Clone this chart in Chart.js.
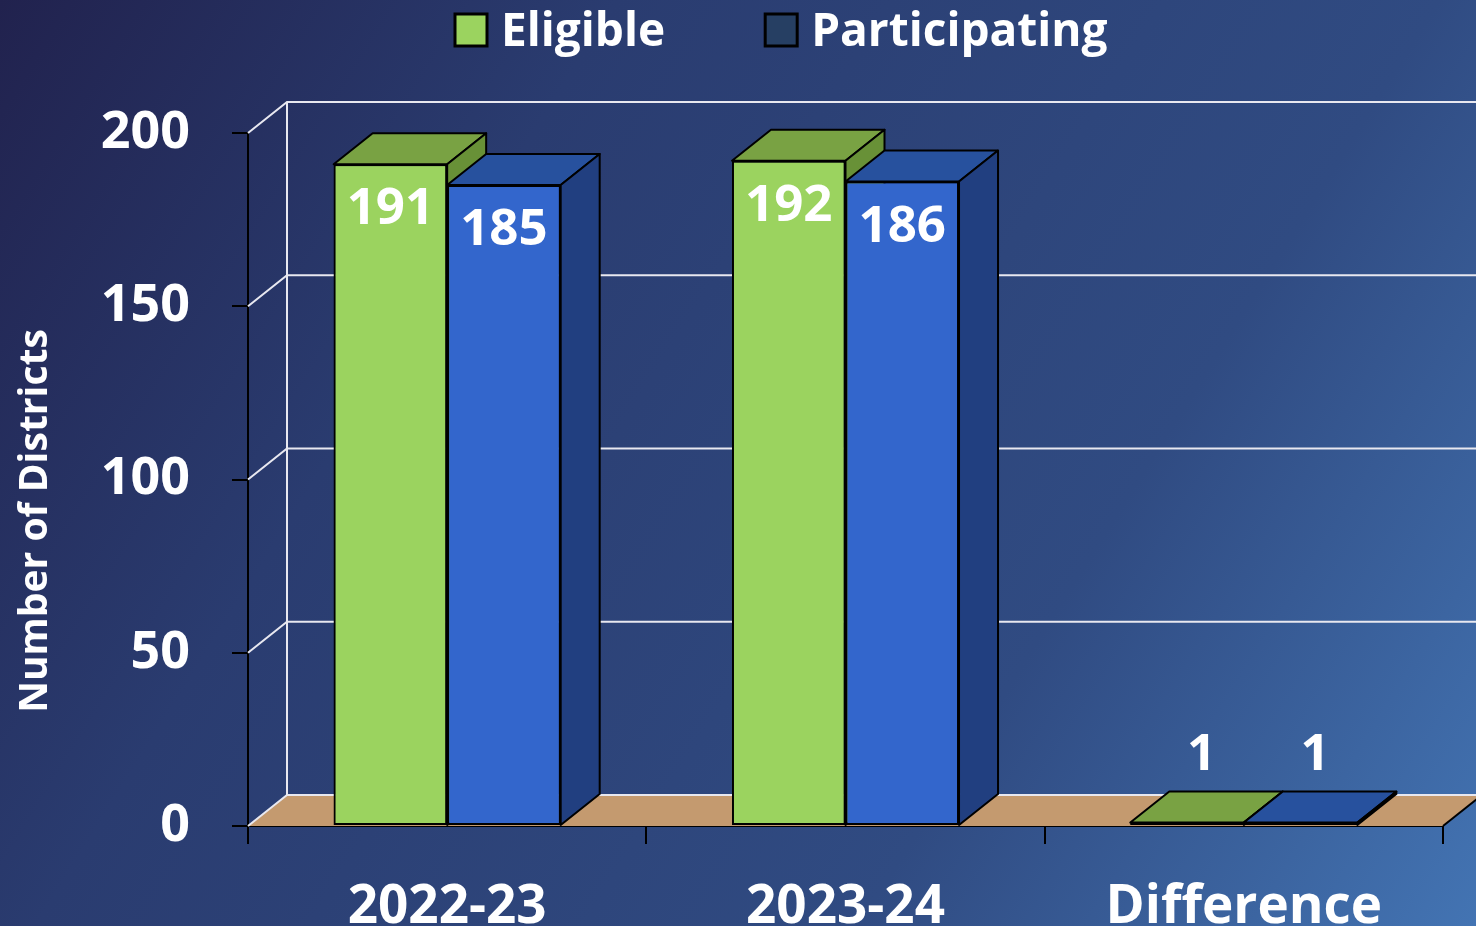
<!DOCTYPE html>
<html>
<head>
<meta charset="utf-8">
<script src="https://cdn.jsdelivr.net/npm/chart.js@4.4.0/dist/chart.umd.min.js"></script>
<style>
  html, body { margin: 0; padding: 0; overflow: hidden; background: #2c3f74; }
  canvas { display: block; }
</style>
</head>
<body>
<canvas id="graficoDistritos" width="1476" height="926"></canvas>
<script>
// Dados do gráfico
const categorias = ['2022-23', '2023-24', 'Difference'];
const elegiveis = [191, 192, 1];
const participantes = [185, 186, 1];
const ticksY = [0, 50, 100, 150, 200];
const nomesSeries = ['Eligible', 'Participating'];
const tituloY = 'Number of Districts';

const FONTE = '"Open Sans", sans-serif';
// profundidade do efeito 3D
const DX = 39, DY = -31;

const coresFrente = ['#9bd35f', '#3366cc'];
const coresTopo = ['#79a243', '#27519e'];
const coresLado = ['#689137', '#213f80'];
const coresLegenda = ['#9bd35f', '#263f63'];

function poligono(ctx, pts) {
    ctx.beginPath();
    ctx.moveTo(pts[0][0], pts[0][1]);
    for (let k = 1; k < pts.length; k++) ctx.lineTo(pts[k][0], pts[k][1]);
    ctx.closePath();
    ctx.fill();
    ctx.stroke();
}

// fundo em degradê
const fundo = {
    id: 'fundo',
    beforeDraw(chart) {
        const ctx = chart.ctx;
        const g = ctx.createLinearGradient(0, 0, chart.width, chart.height);
        g.addColorStop(0, '#21224e');
        g.addColorStop(0.3, '#2a3c70');
        g.addColorStop(0.7, '#304b82');
        g.addColorStop(1, '#4374b3');
        ctx.save();
        ctx.fillStyle = g;
        ctx.fillRect(0, 0, chart.width, chart.height);
        ctx.restore();
    }
};

// parede do fundo, grade e piso
const parede = {
    id: 'parede',
    beforeDatasetsDraw(chart) {
        const { ctx, chartArea: a, scales: { y } } = chart;
        const b = y.getPixelForValue(0);
        ctx.save();
        ctx.fillStyle = '#c49a6f';
        ctx.beginPath();
        ctx.moveTo(a.left, b);
        ctx.lineTo(a.right, b);
        ctx.lineTo(a.right + DX, b + DY);
        ctx.lineTo(a.left + DX, b + DY);
        ctx.closePath();
        ctx.fill();
        ctx.strokeStyle = '#000';
        ctx.lineWidth = 2;
        ctx.beginPath();
        ctx.moveTo(a.right, b);
        ctx.lineTo(a.right + DX, b + DY);
        ctx.stroke();

        ctx.strokeStyle = '#e8e8f0';
        ctx.lineWidth = 2;
        ticksY.forEach(v => {
            const py = y.getPixelForValue(v);
            ctx.beginPath();
            ctx.moveTo(a.left, py);
            ctx.lineTo(a.left + DX, py + DY);
            ctx.lineTo(chart.width, py + DY);
            ctx.stroke();
        });
        ctx.beginPath();
        ctx.moveTo(a.left + DX, y.getPixelForValue(ticksY[ticksY.length - 1]) + DY);
        ctx.lineTo(a.left + DX, b + DY);
        ctx.stroke();
        ctx.restore();
    }
};

// Chart.js desenha a última série primeiro; aqui redesenho na ordem certa,
// com frente (elemento do próprio Chart.js), topo e lateral
const barras3d = {
    id: 'barras3d',
    afterDatasetsDraw(chart) {
        const ctx = chart.ctx;
        chart.data.datasets.forEach((ds, i) => {
            chart.getDatasetMeta(i).data.forEach(el => {
                el.draw(ctx);
                const { x, y, base, width } = el.getProps(['x', 'y', 'base', 'width'], true);
                const l = x - width / 2, r = x + width / 2;
                ctx.save();
                ctx.lineWidth = 2;
                ctx.strokeStyle = '#000';
                ctx.lineJoin = 'round';
                ctx.fillStyle = coresTopo[i];
                poligono(ctx, [[l, y], [r, y], [r + DX, y + DY], [l + DX, y + DY]]);
                ctx.fillStyle = coresLado[i];
                poligono(ctx, [[r, y], [r + DX, y + DY], [r + DX, base + DY], [r, base]]);
                ctx.restore();
            });
        });
    }
};

// rótulos, legenda e título do eixo
const textos = {
    id: 'textos',
    afterDatasetsDraw(chart) {
        const ctx = chart.ctx;
        ctx.save();
        ctx.fillStyle = '#fff';
        ctx.font = 'bold 51px ' + FONTE;
        ctx.textAlign = 'center';
        ctx.textBaseline = 'alphabetic';
        chart.data.datasets.forEach((ds, i) => {
            chart.getDatasetMeta(i).data.forEach((el, j) => {
                const { x, y, base } = el.getProps(['x', 'y', 'base'], true);
                if (base - y > 80) ctx.fillText(ds.data[j], x, y + 60);
                else ctx.fillText(ds.data[j], x + DX / 2 - 5, y + DY - 22);
            });
        });

        // legenda
        ctx.font = 'bold 46px ' + FONTE;
        ctx.textAlign = 'left';
        let lx = 455;
        nomesSeries.forEach((nome, i) => {
            ctx.fillStyle = coresLegenda[i];
            ctx.fillRect(lx, 14, 32, 32);
            ctx.strokeStyle = '#000';
            ctx.lineWidth = 3;
            ctx.strokeRect(lx, 14, 32, 32);
            ctx.fillStyle = '#fff';
            ctx.fillText(nome, lx + 46, 46);
            lx += 46 + ctx.measureText(nome).width + 100;
        });

        // título do eixo Y
        ctx.translate(47, 521);
        ctx.rotate(-Math.PI / 2);
        ctx.textAlign = 'center';
        ctx.font = 'bold 39px ' + FONTE;
        ctx.fillText(tituloY, 0, 0);
        ctx.restore();
    }
};

const ctx = document.getElementById('graficoDistritos').getContext('2d');
new Chart(ctx, {
    type: 'bar',
    data: {
        labels: categorias,
        datasets: [{
            label: nomesSeries[0],
            data: elegiveis,
            backgroundColor: coresFrente[0],
            borderColor: '#000',
            borderWidth: 2,
            borderSkipped: false,
            clip: false
        }, {
            label: nomesSeries[1],
            data: participantes,
            backgroundColor: coresFrente[1],
            borderColor: '#000',
            borderWidth: 2,
            borderSkipped: false,
            clip: false
        }]
    },
    options: {
        responsive: false,
        animation: false,
        layout: { padding: { top: 133, right: 33, left: 0, bottom: 0 } },
        datasets: { bar: { categoryPercentage: 0.57, barPercentage: 1 } },
        plugins: { legend: { display: false }, tooltip: { enabled: false } },
        scales: {
            x: {
                offset: true,
                grid: { offset: true, drawOnChartArea: false, color: '#000', lineWidth: 2, tickLength: 18 },
                border: { color: '#000', width: 2 },
                ticks: { color: '#fff', font: { family: FONTE, size: 53, weight: 'bold' }, padding: 32, maxRotation: 0 },
                afterFit(s) { s.height = 100; }
            },
            y: {
                min: 0,
                max: 200,
                ticks: { stepSize: 50, color: '#fff', font: { family: FONTE, size: 52, weight: 'bold' }, padding: 42 },
                grid: { drawOnChartArea: false, color: '#000', lineWidth: 2, tickLength: 16 },
                border: { color: '#000', width: 2 },
                afterFit(s) { s.width = 248; }
            }
        }
    },
    plugins: [fundo, parede, barras3d, textos]
});
</script>
</body>
</html>
